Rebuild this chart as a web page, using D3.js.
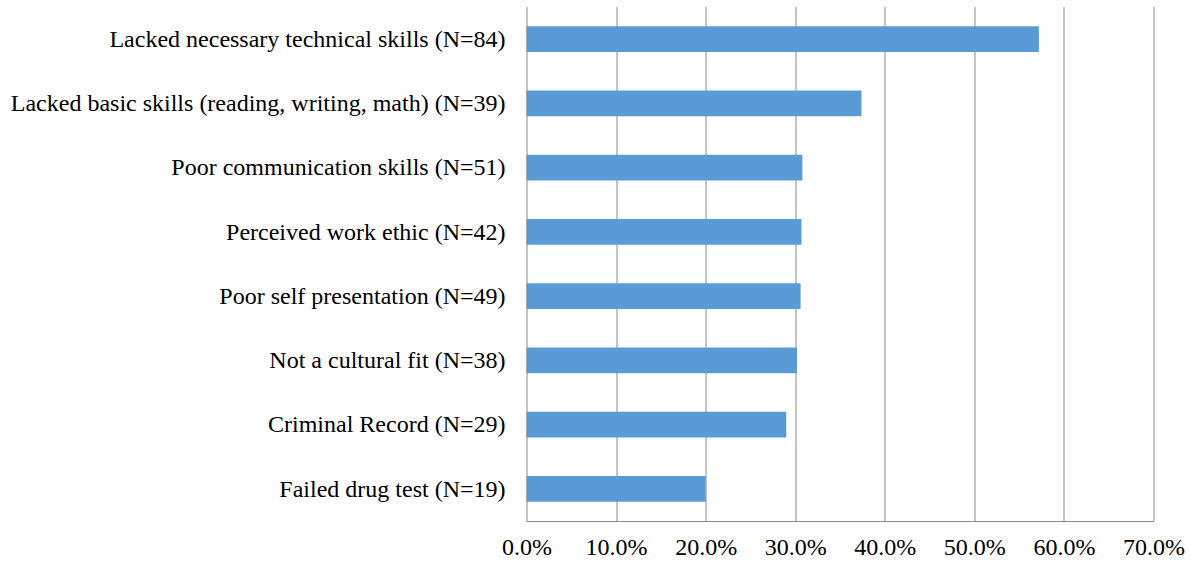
<!DOCTYPE html>
<html>
<head>
<meta charset="utf-8">
<script src="https://cdn.jsdelivr.net/npm/d3@7"></script>
<style>
  body { margin: 0; background: #fff; }
  text { font-family: "Liberation Serif", "Times New Roman", serif; fill: #000; }
</style>
</head>
<body>
<div id="chart"></div>
<script>
var categories = [
    'Lacked necessary technical skills (N=84)',
    'Lacked basic skills (reading, writing, math) (N=39)',
    'Poor communication skills (N=51)',
    'Perceived work ethic (N=42)',
    'Poor self presentation (N=49)',
    'Not a cultural fit (N=38)',
    'Criminal Record (N=29)',
    'Failed drug test (N=19)'
];
var values = [0.572, 0.374, 0.308, 0.307, 0.306, 0.302, 0.290, 0.200];
var ticks = [0, 0.1, 0.2, 0.3, 0.4, 0.5, 0.6, 0.7];

var margin = {top: 7, right: 36.5, bottom: 40, left: 526.5},
    width = 1190 - margin.left - margin.right,
    height = 561 - margin.top - margin.bottom;

var svg = d3.select('#chart')
    .append('svg')
    .attr('width', 1190)
    .attr('height', 561);

var g = svg.append('g')
    .attr('transform', 'translate(' + margin.left + ',' + margin.top + ')');

var x = d3.scaleLinear().domain([0, 0.7]).range([0, width]);
var y = d3.scaleBand().domain(categories).range([0, height]).paddingInner(0.6).paddingOuter(0.3);

// gridlines
g.selectAll('.grid')
    .data(ticks.slice(1))
    .enter()
    .append('line')
    .attr('x1', function (d) { return Math.round(x(d)) + 0.5; })
    .attr('x2', function (d) { return Math.round(x(d)) + 0.5; })
    .attr('y1', 0)
    .attr('y2', height)
    .attr('stroke', '#898989')
    .attr('stroke-width', 1);

g.selectAll('rect')
    .data(values)
    .enter()
    .append('rect')
    .attr('x', 0)
    .attr('y', function (d, i) { return y(categories[i]); })
    .attr('width', function (d) { return x(d); })
    .attr('height', y.bandwidth())
    .attr('fill', '#5B9BD5');

// axes lines
g.append('line')
    .attr('x1', 0.5).attr('x2', 0.5)
    .attr('y1', 0).attr('y2', height)
    .attr('stroke', '#898989');
g.append('line')
    .attr('x1', 0).attr('x2', width + 0.5)
    .attr('y1', height + 0.5).attr('y2', height + 0.5)
    .attr('stroke', '#898989');

var xAxis = d3.axisBottom(x).tickValues(ticks).tickSize(0).tickPadding(17)
    .tickFormat(function (d) { return (d * 100).toFixed(1) + '%'; });
g.append('g')
    .attr('transform', 'translate(0,' + height + ')')
    .call(xAxis)
    .call(function (s) { s.select('.domain').remove(); })
    .selectAll('text')
    .style('font-size', '24px')
    .style('font-family', '"Liberation Serif", serif')
    .attr('fill', '#000');

var yAxis = d3.axisLeft(y).tickSize(0).tickPadding(21);
g.append('g')
    .call(yAxis)
    .call(function (s) { s.select('.domain').remove(); })
    .selectAll('text')
    .style('font-size', '24px')
    .style('font-family', '"Liberation Serif", serif')
    .attr('fill', '#000');
</script>
</body>
</html>
